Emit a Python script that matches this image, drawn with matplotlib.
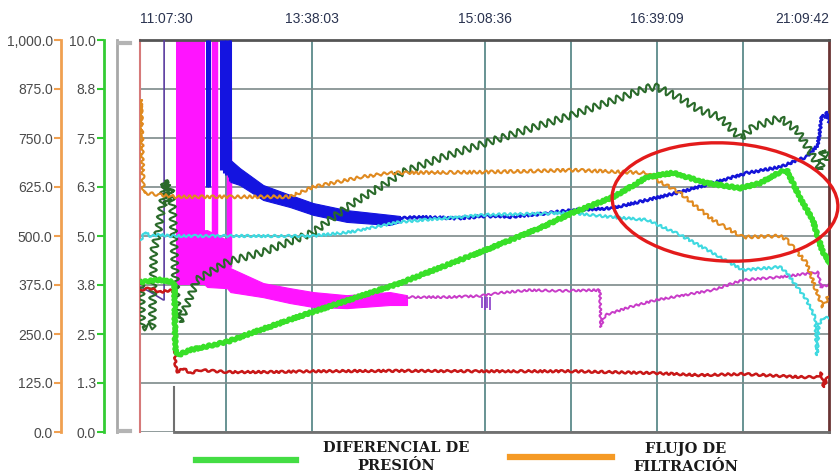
import numpy as np
import matplotlib
matplotlib.use("Agg")
import matplotlib.pyplot as plt
from matplotlib.patches import Ellipse
from matplotlib.lines import Line2D
from matplotlib.transforms import IdentityTransform

# ---------------- axis labels ----------------
time_ticks = [0, 2, 4, 6, 8]
time_labels = ["11:07:30", "13:38:03", "15:08:36", "16:39:09", "21:09:42"]
grid_x = [1, 2, 4, 5, 6, 7]
flow_ticks = [0, 125, 250, 375, 500, 625, 750, 875, 1000]
flow_labels = ["0.0", "125.0", "250.0", "375.0", "500.0", "625.0", "750.0", "875.0", "1,000.0"]
dp_ticks = [0, 1.25, 2.5, 3.75, 5, 6.25, 7.5, 8.75, 10]
dp_labels = ["0.0", "1.3", "2.5", "3.8", "5.0", "6.3", "7.5", "8.8", "10.0"]

# ---------------- series (flow scale 0-1000 unless noted) ----------------
red_t = [0.01, 0.12, 0.23, 0.37, 0.40, 0.41, 0.44, 0.50, 0.58, 0.70, 1.01, 1.50, 2.00, 3.00,
         4.01, 5.02, 6.00, 6.50, 7.00, 7.43, 7.66, 7.87, 7.91, 7.94, 7.98, 8.00]
red_v = [362, 367, 357, 362, 355, 168, 153, 163, 150, 158, 153, 153, 155, 156,
         155, 155, 150, 145, 148, 143, 140, 140, 150, 115, 140, 145]

# differential pressure, 0-10 scale
dp_t = [0.01, 0.23, 0.37, 0.40, 0.41, 0.44, 0.58, 1.01, 1.39, 2.00, 3.02, 4.01, 4.64, 5.02,
        5.49, 5.89, 6.19, 6.58, 6.97, 7.20, 7.43, 7.51, 7.66, 7.81, 7.93, 8.00]
dp_v = [3.83, 3.88, 3.83, 3.80, 2.09, 1.96, 2.09, 2.30, 2.60, 3.06, 3.80, 4.64, 5.20, 5.59,
        5.99, 6.50, 6.61, 6.35, 6.22, 6.35, 6.63, 6.68, 5.99, 5.41, 4.57, 4.34]

# filtration flow
or_t = [0.00, 0.01, 0.04, 0.23, 0.43, 1.05, 1.74, 2.01, 2.59, 2.90, 4.01, 5.02, 5.89, 6.00,
        6.27, 6.65, 7.00, 7.43, 7.51, 7.74, 7.86, 7.93, 8.00]
or_v = [700, 847, 610, 605, 600, 600, 600, 625, 651, 661, 663, 668, 661, 643,
        610, 541, 497, 500, 490, 431, 355, 319, 349]

cy_t = [0.01, 0.06, 0.12, 0.23, 0.35, 0.70, 2.00, 2.44, 3.02, 4.01, 5.02, 5.49, 5.89, 6.27,
        6.65, 7.00, 7.43, 7.51, 7.74, 7.84, 7.86, 7.88, 7.93, 8.00]
cy_v = [490, 510, 500, 503, 500, 500, 500, 510, 536, 554, 559, 548, 541, 503,
        457, 413, 421, 406, 337, 291, 196, 273, 291, 291]

vi_t = [0.01, 0.12, 0.27, 0.28, 0.28]
vi_v = [370, 357, 337, 337, 1000]

blue_spike_t = [0.78, 0.80, 0.94, 0.97, 1.00, 1.03, 1.04]
blue_spike_lo = [625, 625, 668, 660, 655, 650, 640]
blue_band_t = [1.05, 1.16, 1.43, 1.74, 2.01, 2.40, 2.90, 3.02]
blue_band_hi = [694, 673, 630, 605, 584, 566, 554, 551]
blue_band_lo = [638, 630, 592, 574, 554, 536, 528, 536]
blue_t = [3.02, 3.30, 3.70, 4.01, 4.30, 4.64, 5.02, 5.49, 5.89, 6.27, 6.65, 7.05, 7.43,
          7.74, 7.87, 7.92, 7.95, 7.98, 8.00]
blue_v = [546, 548, 545, 551, 549, 556, 566, 571, 592, 612, 635, 661, 676,
          702, 732, 809, 801, 816, 791]

mag_block_t = [0.42, 0.755]
mag_block_lo = [375, 375]
mag_streak_t = [0.85, 0.88, 1.02, 1.04]
mag_streak_lo = [380, 380, 420, 420]
mag_streak_hi = [1000, 1000, 745, 745]
mag_band_t = [0.755, 0.78, 1.01, 1.05, 1.43, 1.74, 2.01, 2.40, 2.90, 3.10]
mag_band_hi = [515, 515, 490, 418, 380, 367, 357, 349, 357, 349]
mag_band_lo = [375, 370, 367, 357, 344, 329, 319, 316, 324, 324]
mag_t = [3.10, 3.30, 3.56, 3.95, 4.18, 4.53, 4.88, 5.34, 5.35, 5.40, 5.69, 6.00, 6.65,
         7.00, 7.43, 7.81, 7.87, 7.91, 8.00]
mag_v = [344, 344, 344, 347, 355, 362, 360, 362, 268, 298, 319, 337, 362,
         388, 395, 406, 408, 370, 375]
mag_tick_t = [3.97, 4.00, 4.03, 4.06]
mag_tick_lo = [316, 312, 316, 312]

dg_t = [0.01, 0.02, 0.14, 0.16, 0.21, 0.24, 0.27, 0.29, 0.31, 0.35, 0.38, 0.42, 0.46, 0.52,
        0.66, 1.01, 1.43, 2.00, 2.44, 2.90, 3.02, 3.50, 4.01, 5.02, 5.57, 5.89, 6.00, 6.27,
        6.50, 6.73, 6.97, 7.12, 7.43, 7.63, 7.86, 7.90, 7.93, 8.00]
dg_v = [388, 268, 268, 464, 510, 554, 597, 643, 579, 630, 566, 337, 281, 311,
        388, 434, 459, 508, 579, 640, 660, 700, 737, 809, 852, 878, 880, 852,
        821, 804, 750, 778, 801, 770, 686, 668, 719, 694]

# ---------------- figure ----------------
W, H, DPI = 840, 476, 100
fig = plt.figure(figsize=(W / DPI, H / DPI), dpi=DPI)
fig.patch.set_facecolor("white")

L, R = 140 / W, 829 / W
B, T = (H - 432) / H, (H - 40) / H
ax = fig.add_axes([L, B, R - L, T - B])
ax.set_xlim(0, 8)
ax.set_ylim(0, 1000)

ax.set_yticks(flow_ticks)
ax.set_yticklabels([])
ax.tick_params(axis="y", length=0)
ax.grid(axis="y", color="#7d8a8a", lw=1.2)

ax.xaxis.tick_top()
ax.set_xticks(time_ticks, labels=time_labels)
ax.xaxis.remove_overlapping_locs = False
ax.set_xticks(grid_x, minor=True)
ax.grid(axis="x", which="minor", color="#4e8080", lw=1.2)
ax.tick_params(axis="x", which="minor", length=0)
ax.tick_params(axis="x", which="major", length=0, pad=10, labelsize=10,
               labelcolor="#2a3350")
for lab in ax.get_xticklabels():
    lab.set_fontfamily("Liberation Sans")
xt = ax.get_xticklabels()
xt[0].set_ha("left")
xt[-1].set_ha("right")

ax.spines["bottom"].set_visible(False)
ax.spines["top"].set_color("#555555")
ax.spines["top"].set_linewidth(2)
ax.spines["left"].set_color("#d67a7a")
ax.spines["left"].set_linewidth(1.5)
ax.spines["right"].set_color("#6a3434")
ax.spines["right"].set_linewidth(2)
ax.set_axisbelow(True)

# inner frame corner
ax.plot([0.395, 8], [0, 0], color="#707070", lw=2, clip_on=False, zorder=3)
ax.plot([0.395, 0.395], [0, 115], color="#707070", lw=1.5, zorder=3)

# magenta channel
ax.fill_between(mag_block_t, mag_block_lo, 1000, color="#ff14ff", lw=0, zorder=2)
ax.vlines(mag_streak_t, mag_streak_lo, mag_streak_hi, color="#ff14ff", lw=2.5, zorder=2)
band = ax.fill_between(mag_band_t, mag_band_lo, mag_band_hi, color="#ff14ff", lw=0.8,
                       zorder=2)
band.set_sketch_params(2.0, 3, 2)
ln = ax.plot(mag_t, mag_v, color="#c83cc8", lw=1.4, zorder=2)[0]
ln.set_sketch_params(1.0, 6, 2)
ax.vlines(mag_tick_t, mag_tick_lo, 345, color="#8a3cc8", lw=1.2, zorder=2)

# blue channel
ax.vlines(blue_spike_t, blue_spike_lo, 1000, color="#1414e0", lw=2.2, zorder=3)
band = ax.fill_between(blue_band_t, blue_band_lo, blue_band_hi, color="#1414e0", lw=0.8,
                       zorder=3)
band.set_sketch_params(2.0, 3, 2)
ln = ax.plot(blue_t, blue_v, color="#1414d8", lw=1.8, zorder=3)[0]
ln.set_sketch_params(1.2, 5, 2)
ax.plot(vi_t, vi_v, color="#5a3ca0", lw=1.2, zorder=3)

# dark green channel
ln = ax.plot(dg_t, dg_v, color="#2a6a2a", lw=1.5, zorder=4)[0]
ln.set_sketch_params(3.5, 8, 1)

# cyan channel
ln = ax.plot(cy_t, cy_v, color="#3fd9e0", lw=1.5, zorder=5)[0]
ln.set_sketch_params(1.2, 6, 2)

# filtration flow
ln = ax.plot(or_t, or_v, color="#e08a20", lw=1.5, zorder=5)[0]
ln.set_sketch_params(1.5, 7, 2)

# red channel
ln = ax.plot(red_t, red_v, color="#c81818", lw=1.8, zorder=6)[0]
ln.set_sketch_params(1.0, 7, 2)

# differential pressure on its own 0-10 scale
ax_dp = ax.twinx()
ax_dp.set_ylim(0, 10)
ax_dp.axis("off")
ln = ax_dp.plot(dp_t, dp_v, color="#38e028", lw=3.4, zorder=7)[0]
ln.set_sketch_params(1.2, 5, 2)

# outer scales
def outer_axis(xpix, ticks, labels, lim, color):
    a = fig.add_axes([xpix / W, B, 1e-4, T - B])
    a.set_ylim(*lim)
    a.patch.set_visible(False)
    for s in ("top", "right", "bottom"):
        a.spines[s].set_visible(False)
    a.spines["left"].set_color(color)
    a.spines["left"].set_linewidth(2)
    a.set_xticks([])
    a.set_yticks(ticks, labels=labels)
    a.tick_params(axis="y", length=5, width=1.5, color=color, pad=1,
                  labelsize=10, labelcolor="#4a4a4a")
    for lab in a.get_yticklabels():
        lab.set_fontfamily("Liberation Sans")
    return a

outer_axis(61, flow_ticks, flow_labels, (0, 1000), "#f0a050")
outer_axis(104, dp_ticks, dp_labels, (0, 10), "#33cc33")

# scroll bar
fig.add_artist(Line2D([117 / W, 117 / W], [B, T], color="#a8a8a8", lw=2,
                      transform=fig.transFigure))
fig.add_artist(Line2D([119 / W, 130 / W], [(H - 43) / H] * 2, color="#b4b4b4", lw=3,
                      transform=fig.transFigure))
fig.add_artist(Line2D([119 / W, 130 / W], [(H - 431) / H] * 2, color="#b4b4b4", lw=3,
                      transform=fig.transFigure))

# legend
fig.add_artist(Line2D([196 / W, 296 / W], [(H - 460) / H] * 2, color="#44dd44", lw=4.5,
                      transform=fig.transFigure))
fig.add_artist(Line2D([510 / W, 612 / W], [(H - 457) / H] * 2, color="#f59a25", lw=4.5,
                      transform=fig.transFigure))
fig.text(396 / W, (H - 457) / H, "DIFERENCIAL DE\nPRESIÓN", ha="center", va="center",
         fontsize=10.5, fontweight="bold", family="DejaVu Serif", color="#1a1a1a",
         linespacing=1.35)
fig.text(686 / W, (H - 458) / H, "FLUJO DE\nFILTRACIÓN", ha="center", va="center",
         fontsize=10.5, fontweight="bold", family="DejaVu Serif", color="#1a1a1a",
         linespacing=1.35)

# highlight
fig.add_artist(Ellipse((725, H - 202), 226, 118, angle=-3, fill=False, ec="#e31b1b",
                       lw=2.4, transform=IdentityTransform(), zorder=20))

fig.savefig("out.png", dpi=DPI)
